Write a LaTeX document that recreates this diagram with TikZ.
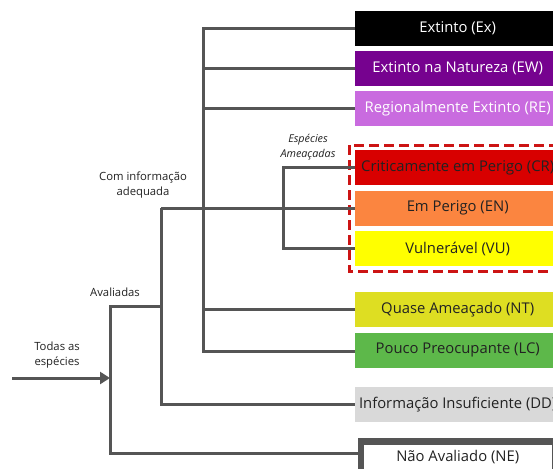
\documentclass[tikz,border=0pt]{standalone}
\usepackage{fontspec}
\setmainfont{Open Sans}
\usetikzlibrary{arrows.meta}
\definecolor{linegray}{HTML}{555555}
\definecolor{cEW}{HTML}{76028F}
\definecolor{cRE}{HTML}{C96BDF}
\definecolor{cCR}{HTML}{D80000}
\definecolor{cEN}{HTML}{FB8540}
\definecolor{cVU}{HTML}{FFFF00}
\definecolor{cNT}{HTML}{DEDE22}
\definecolor{cLC}{HTML}{5DB84A}
\definecolor{cDD}{HTML}{D9D9D9}
\definecolor{dashred}{HTML}{CC1414}
\definecolor{txt}{HTML}{222222}
\begin{document}
\begin{tikzpicture}[x=1pt,y=-1pt,
  cat/.style={anchor=west, minimum width=205pt, minimum height=35pt, inner sep=0pt,
    font=\fontsize{14.8}{17}\selectfont, text=txt},
  tree/.style={draw=linegray, line width=3pt, line join=miter},
  lbl/.style={font=\fontsize{11.3}{15}\selectfont, text=txt, align=center, inner sep=0pt},
  ilbl/.style={font=\fontsize{10.8}{15.5}\selectfont\itshape, text=txt, align=center, inner sep=0pt}]
\clip (0,0) rectangle (553,468);
\fill[white] (0,0) rectangle (553,468);
% category boxes
\node[cat, fill=black, text=white] (ex) at (355,28.5) {Extinto (Ex)};
\node[cat, fill=cEW, text=white] (ew) at (355,68.5) {Extinto na Natureza (EW)};
\node[cat, fill=cRE, text=white] (re) at (355,108.5) {Regionalmente Extinto (RE)};
\node[cat, fill=cCR] (cr) at (355,167.5) {Criticamente em Perigo (CR)};
\node[cat, fill=cEN] (en) at (355,208) {Em Perigo (EN)};
\node[cat, fill=cVU] (vu) at (355,248.5) {Vulnerável (VU)};
\node[cat, fill=cNT] (nt) at (355,309.5) {Quase Ameaçado (NT)};
\node[cat, fill=cLC] (lc) at (355,350) {Pouco Preocupante (LC)};
\node[cat, fill=cDD] (dd) at (355,404.5) {Informação Insuficiente (DD)};
\node[cat, fill=white, draw=linegray, line width=6.5pt, minimum width=194pt, minimum height=31pt] (ne) at (357.5,457) {Não Avaliado (NE)};
% threatened frame
\draw[draw=dashred, line width=3pt, dash pattern=on 10pt off 5pt] (349.5,145) rectangle (575,271.5);
% junction points
\coordinate (t1) at (203,28.5);
\coordinate (t4) at (203,351);
\coordinate (ci) at (161,208);
\coordinate (cb) at (161,306);
\coordinate (av) at (110,306);
\coordinate (nb) at (110,453);
\coordinate (arrS) at (12,378);
\coordinate (arrE) at (110,378);
\coordinate (th) at (283,248.5);
% tree connectors
\draw[tree] (ex.west) -- (t1) -- (t4) -- (t4 -| lc.west);
\draw[tree] (ew.west) -- (ew.west -| t1);
\draw[tree] (re.west) -- (re.west -| t1);
\draw[tree] (nt.west) -- (nt.west -| t1);
\draw[tree] (ci) -- (en.west);
\draw[tree] (cr.west) -| (th) -- (vu.west);
\draw[tree] (ci) |- (dd.west);
\draw[tree] (cb) -- (av) -- (nb) -- (nb -| ne.west);
\draw[tree, -{Triangle[length=10pt,width=12pt]}] (arrS) -- (arrE);
% labels
\node[lbl] (ltodas) at (57,355) {Todas as\\espécies};
\node[lbl] (lava) at (115,292) {Avaliadas};
\node[lbl] (lcom) at (143,185.5) {Com informação\\adequada};
\node[ilbl] (lesp) at (308,147) {Espécies\\Ameaçadas};
\end{tikzpicture}
\end{document}
